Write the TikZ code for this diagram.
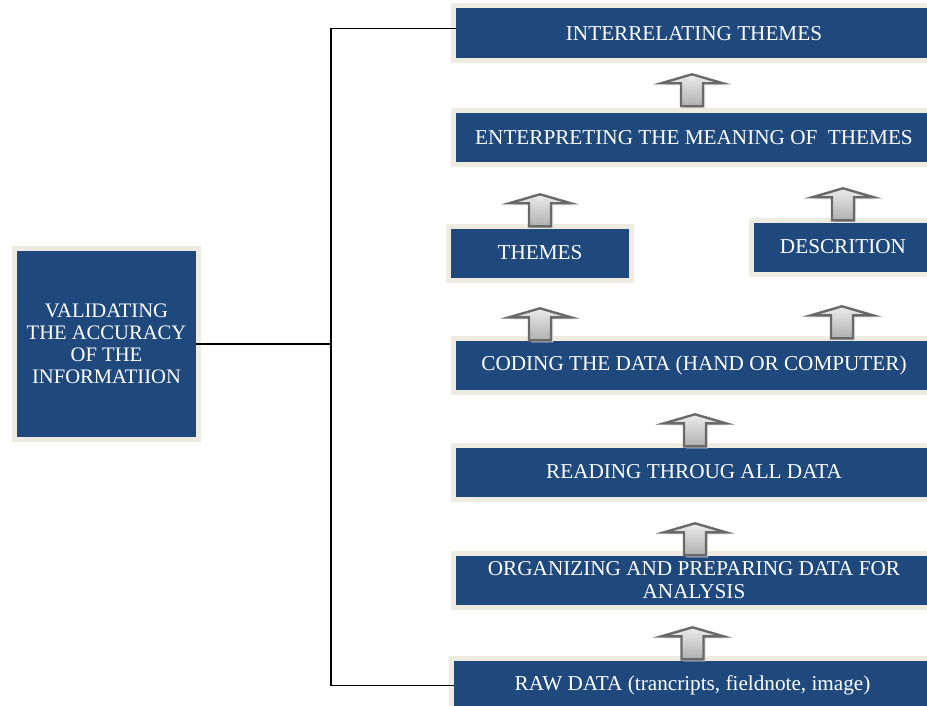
\documentclass[tikz,border=0pt]{standalone}
\usepackage{fontspec}
\setmainfont{Liberation Serif}
\usetikzlibrary{calc}
\definecolor{boxblue}{RGB}{31,73,125}
\definecolor{cream}{RGB}{238,236,225}
\definecolor{arrowline}{RGB}{105,105,105}
\tikzset{
  stepbox/.style={fill=boxblue, text=white, inner sep=0pt, align=center,
    font=\fontsize{21.2}{23}\selectfont,
    preaction={draw=cream, line width=10pt}},
  conn/.style={draw=black, line width=1.7pt},
  blockarrow/.style={draw=arrowline, line width=2.4pt, line join=miter,
    top color=gray!15, bottom color=gray!62},
  arrowshadow/.style={fill=gray!28}
}
% #1 lower node, #2 x offset, #3 lift of arrow base above node top
\newcommand\blockup[3]{%
  \path[arrowshadow] ([xshift=#2pt-9pt, yshift=#3pt-2pt]#1.north) -- ++(0,-23) -- ++(-20,0) -- ++(31,-9) -- ++(31,9) -- ++(-20,0) -- ++(0,23) -- cycle;
  \path[blockarrow] ([xshift=#2pt-11pt, yshift=#3pt]#1.north) -- ++(0,-23) -- ++(-20,0) -- ++(31,-9) -- ++(31,9) -- ++(-20,0) -- ++(0,23) -- cycle;}
\begin{document}
\begin{tikzpicture}[x=1pt,y=-1pt]
\useasboundingbox (0,0) rectangle (927,706);
\clip (0,0) rectangle (927,706);
\fill[white] (0,0) rectangle (927,706);

\node[stepbox, minimum width=476pt, minimum height=50pt] (b1) at (694,33.5) {INTERRELATING THEMES};
\node[stepbox, minimum width=476pt, minimum height=49pt] (b2) at (694,138) {ENTERPRETING THE MEANING OF \ THEMES};
\node[stepbox, minimum width=178pt, minimum height=49pt] (b3) at (540,253) {THEMES};
\node[stepbox, minimum width=178pt, minimum height=49pt] (b4) at (843,247) {DESCRITION};
\node[stepbox, minimum width=476pt, minimum height=49pt] (b5) at (694,365) {CODING THE DATA (HAND OR COMPUTER)};
\node[stepbox, minimum width=476pt, minimum height=49pt] (b6) at (694,472) {READING THROUG ALL DATA};
\node[stepbox, minimum width=476pt, minimum height=49pt] (b7) at (694,580) {ORGANIZING AND PREPARING DATA FOR\\ANALYSIS};
\node[stepbox, minimum width=477pt, minimum height=50pt] (b8) at (692.5,685.5) {RAW DATA (trancripts, fieldnote, image)};
\node[stepbox, minimum width=179pt, minimum height=186pt, font=\fontsize{20.6}{22}\selectfont] (L) at (106.5,344) {VALIDATING\\THE ACCURACY\\OF THE\\INFORMATIION};

\blockup{b2}{-2}{7}
\blockup{b3}{0}{2}
\blockup{b4}{0}{2}
\blockup{b5}{-154}{0}
\blockup{b5}{148}{2}
\blockup{b6}{1}{1}
\blockup{b7}{1}{0}
\blockup{b8}{0}{1}

\coordinate (j) at (331,344);
\draw[conn] (L.east) -- (j);
\draw[conn] ([yshift=5pt]b1.west) -| (j);
\draw[conn] (b8.west) -| (j);
\end{tikzpicture}
\end{document}
